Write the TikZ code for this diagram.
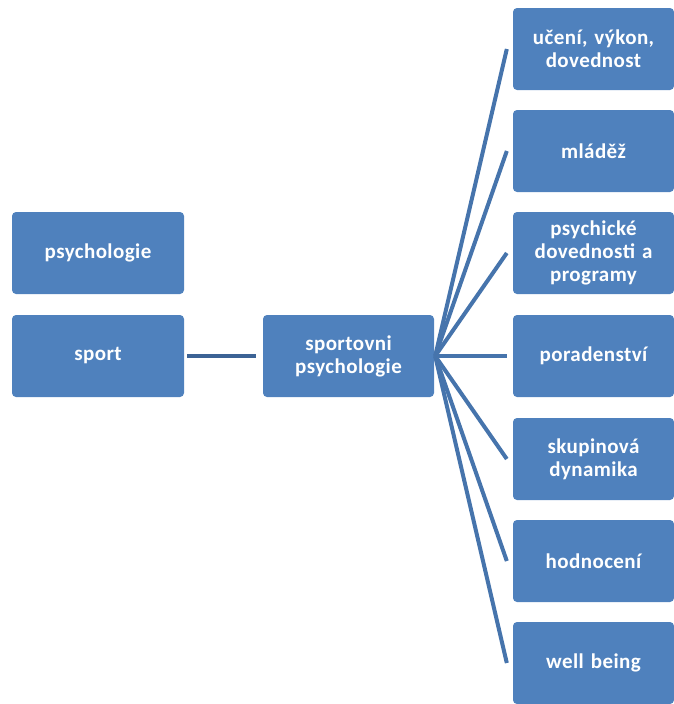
\documentclass[tikz,border=0pt]{standalone}
\usepackage{fontspec}
\setmainfont{Carlito}[LetterSpace=2]
\usetikzlibrary{calc}

\definecolor{boxblue}{HTML}{4F81BD}
\definecolor{lineblue}{HTML}{4674AC}
\definecolor{darkline}{HTML}{3C6395}

\tikzset{
  box/.style={draw=none, fill=boxblue, rounded corners=4pt, text=white,
    font=\fontsize{21}{23}\selectfont\bfseries, align=center,
    minimum height=82pt, inner sep=2pt},
  leftbox/.style={box, minimum width=172pt, text width=166pt},
  rightbox/.style={box, minimum width=161pt, text width=157pt},
  spoke/.style={draw=lineblue, line width=4pt},
}

\begin{document}
\begin{tikzpicture}[x=1pt, y=-1pt]

\useasboundingbox (0,0) rectangle (674,704);

\def\xl{98}; % left column
\def\xm{348.5}; % middle
\def\xr{593.5}; % right column

\node[leftbox] (psych) at (\xl, 253) {psychologie};
\node[leftbox] (sport) at (\xl, 356) {sport};

\node[leftbox, minimum width=171pt] (sportpsych) at (\xm, 356) {sportovni\\psychologie};

\node[rightbox] (uceni) at (\xr, 49) {učení, výkon,\\dovednost};
\node[rightbox] (mladez) at (\xr, 151) {mláděž};
\node[rightbox] (psychdov) at (\xr, 253) {psychické\\dovednosti a\\programy};
\node[rightbox] (porad) at (\xr, 356) {poradenství};
\node[rightbox] (skupina) at (\xr, 459) {skupinová\\dynamika};
\node[rightbox] (hodnoc) at (\xr, 561) {hodnocení};
\node[rightbox] (well) at (\xr, 663) {well being};

% sport -> sportovni psychologie
\draw[draw=darkline, line width=4pt] ($(sport.east)+(3,0)$) -- ($(sportpsych.west)+(-7,0)$);

% line ends in front of the right boxes
\coordinate (e1) at ($(uceni.west)+(-6,0)$);
\coordinate (e2) at ($(mladez.west)+(-6,0)$);
\coordinate (e3) at ($(psychdov.west)+(-6,0)$);
\coordinate (e4) at ($(porad.west)+(-6,0)$);
\coordinate (e5) at ($(skupina.west)+(-6,0)$);
\coordinate (e6) at ($(hodnoc.west)+(-6,0)$);
\coordinate (e7) at ($(well.west)+(-6,0)$);

\draw[spoke] ($(sportpsych.east)+(1,0)$) -- (e1);
\draw[spoke] ($(sportpsych.east)+(1,0)$) -- (e2);
\draw[spoke] ($(sportpsych.east)+(1,0)$) -- (e3);
\draw[spoke] ($(sportpsych.east)+(1,0)$) -- (e4);
\draw[spoke] ($(sportpsych.east)+(1,0)$) -- (e5);
\draw[spoke] ($(sportpsych.east)+(1,0)$) -- (e6);
\draw[spoke] ($(sportpsych.east)+(1,0)$) -- (e7);

\end{tikzpicture}
\end{document}
